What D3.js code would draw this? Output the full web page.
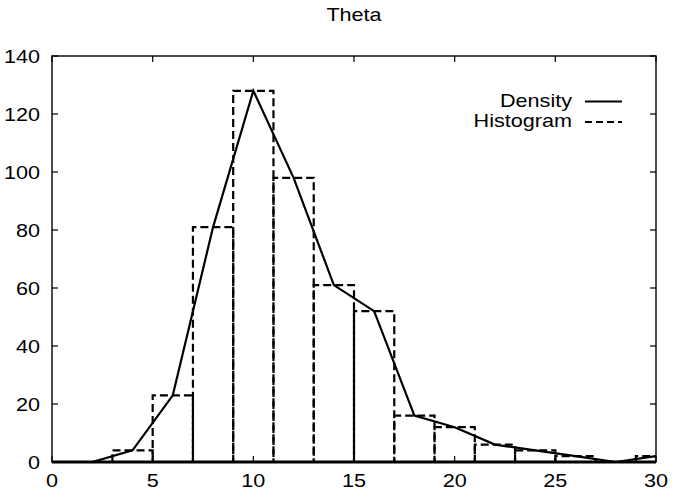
<!DOCTYPE html>
<html>
<head>
<meta charset="utf-8">
<script src="https://cdn.jsdelivr.net/npm/d3@7"></script>
<style>
  html, body { margin: 0; padding: 0; background: #fff; }
  svg { display: block; }
  text { font-family: "Liberation Sans", Arial, Helvetica, sans-serif; fill: #000; }
</style>
</head>
<body>
<svg id="chart" width="674" height="494"></svg>
<script>
// ---- data ----
const title = "Theta";
const xTicks = [0, 5, 10, 15, 20, 25, 30];
const yTicks = [0, 20, 40, 60, 80, 100, 120, 140];
// histogram: bin left edges (width 2) and counts
const binStarts = [3, 5, 7, 9, 11, 13, 15, 17, 19, 21, 23, 25, 27, 29];
const binWidth = 2;
const histValues = [4, 23, 81, 128, 98, 61, 52, 16, 12, 6, 4, 2, 0, 2];
// density curve points
const densityX = [0, 2, 4, 6, 8, 10, 12, 14, 16, 18, 20, 22, 24, 26, 28, 30];
const densityY = [0, 0, 4, 23, 81, 128, 98, 61, 52, 16, 12, 6, 4, 2, 0, 2];
const legendLabels = ["Density", "Histogram"];

// ---- layout ----
const svg = d3.select("#chart");
const L = 52, R = 656, T = 56, B = 462;
const x = d3.scaleLinear().domain([0, 30]).range([L, R]);
const y = d3.scaleLinear().domain([0, 140]).range([B, T]);
const SX = 1.2, FS = 18;

function txt(g, tx, ty, s, anchor) {
  return g.append("text")
    .attr("transform", `translate(${tx},${ty}) scale(${SX},1)`)
    .attr("text-anchor", anchor)
    .style("font-size", FS + "px")
    .text(s);
}

// clip
svg.append("defs").append("clipPath").attr("id", "clip")
  .append("rect").attr("x", L).attr("y", T).attr("width", R - L).attr("height", B - T);

// histogram boxes
const dataG = svg.append("g").attr("clip-path", "url(#clip)");
binStarts.forEach((s, i) => {
  const v = histValues[i];
  if (v <= 0) return;
  const x0 = x(s), x1 = x(s + binWidth), yy = y(v), y0 = y(0);
  dataG.append("path")
    .attr("d", `M${x0},${y0}L${x1},${y0}L${x1},${yy}L${x0},${yy}L${x0},${y0}`)
    .attr("fill", "none").attr("stroke", "#000")
    .attr("stroke-width", 2.2).attr("stroke-dasharray", "8,4");
});

// density line
const line = d3.line().x(d => x(d[0])).y(d => y(d[1]));
dataG.append("path")
  .datum(densityX.map((d, i) => [d, densityY[i]]))
  .attr("d", line)
  .attr("fill", "none").attr("stroke", "#000")
  .attr("stroke-width", 2.2).attr("stroke-linejoin", "miter");

// frame
svg.append("rect").attr("x", L).attr("y", T).attr("width", R - L).attr("height", B - T)
  .attr("fill", "none").attr("stroke", "#000").attr("stroke-width", 1.4);
svg.append("line").attr("x1", L).attr("x2", R).attr("y1", B).attr("y2", B)
  .attr("stroke", "#000").attr("stroke-width", 2.8);

// ticks
const tk = 6;
const axG = svg.append("g");
yTicks.forEach(v => {
  const yy = y(v);
  axG.append("line").attr("x1", L).attr("x2", L + tk).attr("y1", yy).attr("y2", yy).attr("stroke", "#000").attr("stroke-width", 1.2);
  axG.append("line").attr("x1", R).attr("x2", R - tk).attr("y1", yy).attr("y2", yy).attr("stroke", "#000").attr("stroke-width", 1.2);
  txt(axG, 40, yy + 6.5, String(v), "end");
});
xTicks.forEach(v => {
  const xx = x(v);
  axG.append("line").attr("x1", xx).attr("x2", xx).attr("y1", B).attr("y2", B - tk).attr("stroke", "#000").attr("stroke-width", 1.2);
  axG.append("line").attr("x1", xx).attr("x2", xx).attr("y1", T).attr("y2", T + tk).attr("stroke", "#000").attr("stroke-width", 1.2);
  txt(axG, xx, 487, String(v), "middle");
});

// title
txt(svg, (L + R) / 2, 21, title, "middle");

// legend
const lg = svg.append("g");
txt(lg, 572, 107, legendLabels[0], "end");
txt(lg, 572, 127, legendLabels[1], "end");
lg.append("line").attr("x1", 585).attr("x2", 622).attr("y1", 101.5).attr("y2", 101.5)
  .attr("stroke", "#000").attr("stroke-width", 2.2);
lg.append("line").attr("x1", 585).attr("x2", 622).attr("y1", 122).attr("y2", 122)
  .attr("stroke", "#000").attr("stroke-width", 2.2).attr("stroke-dasharray", "7,4");
</script>
</body>
</html>
